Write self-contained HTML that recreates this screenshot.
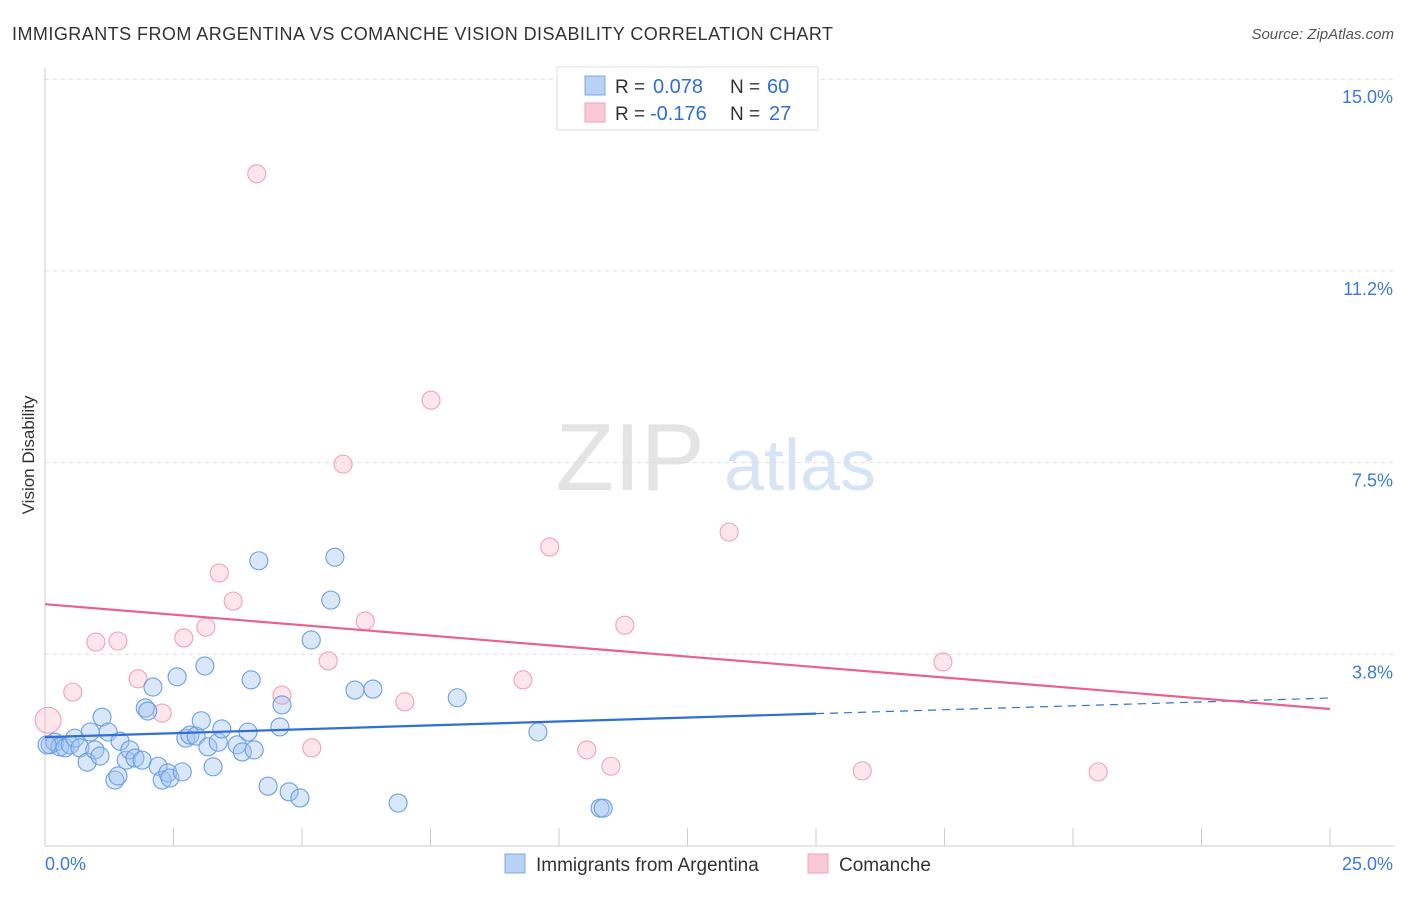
<!DOCTYPE html>
<html><head><meta charset="utf-8"><style>
body{margin:0;background:#fff;font-family:"Liberation Sans",sans-serif;}
svg text{font-family:"Liberation Sans",sans-serif;}
</style></head><body>
<svg id="c" width="1406" height="892">
<text x="12" y="40" font-size="18" fill="#333" textLength="821">IMMIGRANTS FROM ARGENTINA VS COMANCHE VISION DISABILITY CORRELATION CHART</text>
<text x="1394" y="39" font-size="15" fill="#555" text-anchor="end" font-style="italic">Source: ZipAtlas.com</text>
<text x="630" y="490" font-size="96" fill="#e4e4e4" font-family="Liberation Serif" text-anchor="middle">ZIP</text>
<text x="800" y="490" font-size="72" fill="#d6e4f6" text-anchor="middle">atlas</text>
<text x="34" y="455" font-size="17" fill="#333" transform="rotate(-90 34 455)" text-anchor="middle">Vision Disability</text>
<g id="grid"></g><g id="pts"></g><g id="lines"></g>
<g>
<rect x="557" y="67" width="261" height="63" fill="#fff" stroke="#ddd"/>
<rect x="585" y="76" width="20" height="19" fill="#b8d2f4" stroke="#7aa8e4"/>
<rect x="585" y="103" width="20" height="19" fill="#fbc8d6" stroke="#f0a0b8"/>
<text x="615" y="93" font-size="19" fill="#333">R =</text>
<text x="653" y="93" font-size="20" fill="#2f6fd6">0.078</text>
<text x="730" y="93" font-size="19" fill="#333">N =</text>
<text x="767" y="93" font-size="20" fill="#2f6fd6">60</text>
<text x="615" y="120" font-size="19" fill="#333">R =</text>
<text x="650" y="120" font-size="20" fill="#2f6fd6">-0.176</text>
<text x="730" y="120" font-size="19" fill="#333">N =</text>
<text x="769" y="120" font-size="20" fill="#2f6fd6">27</text>
</g>
<g>
<rect x="505" y="854" width="20" height="19" fill="#b8d2f4" stroke="#7aa8e4"/>
<text x="536" y="871" font-size="19" fill="#333">Immigrants from Argentina</text>
<rect x="808" y="854" width="20" height="19" fill="#fbc8d6" stroke="#f0a0b8"/>
<text x="839" y="871" font-size="19" fill="#333">Comanche</text>
</g>
</svg>
<script>
const blueX=[0.10,0.19,0.29,0.39,0.49,0.58,0.68,0.82,0.88,0.97,1.07,1.11,1.23,1.36,1.42,1.46,1.58,1.65,1.75,1.89,1.95,2.00,2.10,2.20,2.28,2.39,2.43,2.57,2.67,2.74,2.82,2.94,3.04,3.11,3.17,3.27,3.37,3.44,3.74,3.84,3.95,4.01,4.07,4.16,4.34,4.57,4.61,4.75,4.96,5.18,5.56,5.64,6.03,6.38,6.87,8.02,9.59,10.80,10.86,0.04];
const blueY=[1.98,2.03,1.94,1.92,1.98,2.11,1.92,1.64,2.23,1.88,1.76,2.52,2.23,1.29,1.37,2.05,1.68,1.88,1.72,1.68,2.70,2.64,3.11,1.56,1.29,1.43,1.33,3.31,1.45,2.11,2.17,2.15,2.45,3.52,1.94,1.55,2.03,2.29,1.98,1.84,2.23,3.25,1.88,5.58,1.17,2.33,2.76,1.06,0.94,4.03,4.81,5.65,3.05,3.07,0.84,2.90,2.23,0.74,0.74,1.98];
const pinkX=[0.06,0.54,0.99,1.42,1.81,2.28,2.70,3.13,3.39,3.66,4.12,4.61,5.19,5.51,5.80,6.23,7.00,7.51,9.30,9.82,10.54,11.01,11.28,13.31,15.90,17.47,20.49];
const pinkY=[2.46,3.01,3.99,4.01,3.27,2.60,4.07,4.28,5.34,4.79,13.15,2.95,1.92,3.62,7.47,4.40,2.82,8.72,3.25,5.85,1.88,1.56,4.32,6.14,1.47,3.60,1.45];
const yTicks=[3.75,7.5,11.25,15];
const yTickLabels=["3.8%","7.5%","11.2%","15.0%"];
const xTicks=[0,2.5,5,7.5,10,12.5,15,17.5,20,22.5,25];
const blueTrend=[2.13,2.895];
const pinkTrend=[4.73,2.68];
const X=v=>45+v/25*1285;
const Y=v=>846-v/3.75*191.7;
const NS="http://www.w3.org/2000/svg";
function mk(tag,attrs,parent){const e=document.createElementNS(NS,tag);for(const k in attrs)e.setAttribute(k,attrs[k]);parent.appendChild(e);return e;}
const g=document.getElementById('grid');
let ax=mk('line',{x1:45,y1:68,x2:45,y2:846,stroke:'#ccc'},g);


let bx=mk('line',{x1:45,y1:846,x2:1394,y2:846,stroke:'#ccc'},g);


yTicks.forEach((t,i)=>{
 const l=mk('line',{x1:45,y1:Y(t),x2:1394,y2:Y(t),stroke:'#ddd','stroke-dasharray':'4,4'},g);
 
 
 const tx=mk('text',{x:1393,y:Y(t)+24,'font-size':18,fill:'#3b7ad8','text-anchor':'end'},g);
 tx.textContent=yTickLabels[i];
 
 
});
xTicks.forEach(t=>{
 if(t===0)return;
 const l=mk('line',{x1:X(t),y1:828,x2:X(t),y2:846,stroke:'#ccc'},g);
 
 
});
let x0=mk('text',{x:45,y:870,'font-size':18,fill:'#3b7ad8'},g);x0.textContent='0.0%';


let x1=mk('text',{x:1393,y:870,'font-size':18,fill:'#3b7ad8','text-anchor':'end'},g);x1.textContent='25.0%';


const p=document.getElementById('pts');
pinkX.forEach((v,i)=>{
 const c=mk('circle',{cx:X(v),cy:Y(pinkY[i]),r:i===0?13:9,fill:'rgba(248,180,200,0.35)',stroke:'#f0a0b8','stroke-width':1.1},p);
 
 
});
blueX.forEach((v,i)=>{
 const c=mk('circle',{cx:X(v),cy:Y(blueY[i]),r:9,fill:'rgba(160,196,240,0.4)',stroke:'#6a9fe0','stroke-width':1.1},p);
 
 
});
const L=document.getElementById('lines');
const bAt=v=>blueTrend[0]+(blueTrend[1]-blueTrend[0])*v/25;
let b1=mk('line',{x1:X(0),y1:Y(bAt(0)),x2:X(15),y2:Y(bAt(15)),stroke:'#2f6fd6','stroke-width':2.2},L);


let b2=mk('line',{x1:X(15),y1:Y(bAt(15)),x2:X(25),y2:Y(bAt(25)),stroke:'#2f6fd6','stroke-width':1.2,'stroke-dasharray':'8,6'},L);


let pl=mk('line',{x1:X(0),y1:Y(pinkTrend[0]),x2:X(25),y2:Y(pinkTrend[1]),stroke:'#e8628e','stroke-width':2.2},L);


</script>
</body></html>
